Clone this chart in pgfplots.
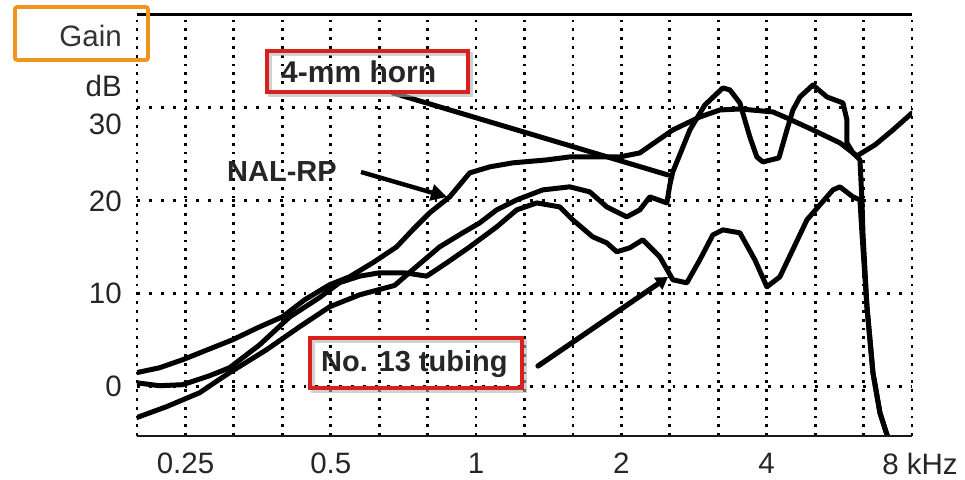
\documentclass[border=0pt]{standalone}
\usepackage{fontspec}
\setmainfont{Liberation Sans}
\usepackage{pgfplots}
\pgfplotsset{compat=1.18}
\usetikzlibrary{arrows.meta}

\definecolor{boxred}{RGB}{218,32,30}
\definecolor{gainorange}{RGB}{242,148,28}
\newcommand{\lblfont}{\fontsize{29.5}{32}\selectfont}

\tikzset{
  vgrid/.style={black, line width=2.8pt, dash pattern=on 2.8pt off 6pt},
  hgrid/.style={black, line width=2.9pt, dash pattern=on 2.9pt off 9pt},
}
\pgfplotsset{
  curve/.style={black, line width=5pt, line join=round, line cap=round, mark=none},
}

\begin{document}
\begin{tikzpicture}
\begin{axis}[
  scale only axis, width=775pt, height=421pt,
  xmode=log, log basis x=2,
  xmin=0.19843, xmax=8, ymin=-5.3, ymax=40,
  axis line style={draw=none},
  clip mode=individual,
  major tick length=0pt,
  grid=major,
  major x grid style={vgrid},
  major y grid style={hgrid},
  xtick={0.19843,0.25,0.31498,0.39685,0.5,0.62996,0.7937,1,1.25992,1.5874,2,2.51984,3.1748,4,5.03968,6.3496},
  xticklabels={{},0.25,{},{},0.5,{},{},1,{},{},2,{},{},4,{},{}},
  extra x ticks={8}, extra x tick labels={8 kHz},
  extra x tick style={grid=major, major x grid style={vgrid}, xticklabel style={xshift=8pt}},
  ytick={0,10,20}, yticklabels={0,10,20},
  extra y ticks={30}, extra y tick labels={30},
  extra y tick style={grid=major, major y grid style={hgrid}, yticklabel style={yshift=-16pt}},
  ticklabel style={font=\lblfont, text=black!85, inner sep=0pt},
  xticklabel style={anchor=north, yshift=-17pt},
  yticklabel style={anchor=east, xshift=-15pt},
]

% NAL-RP target
\addplot[curve] coordinates {
  (0.1979,1.51) (0.2208,2.04) (0.2465,2.90) (0.2777,3.98) (0.3129,5.05)
  (0.3525,6.34) (0.3973,7.53) (0.4413,9.35) (0.4971,10.97) (0.5469,11.83)
  (0.6104,13.33) (0.6846,15.05) (0.7390,16.88) (0.8014,18.71) (0.8816,20.43)
  (0.9700,23.01) (1.0671,23.66) (1.1910,24.09) (1.4010,24.41) (1.5634,24.73)
  (1.8041,24.73) (1.9848,24.73) (2.1834,25.16) (2.5562,27.63) (2.9080,29.03)
  (3.1993,29.78) (3.5198,29.89) (4.1200,29.57) (4.4050,28.92) (4.9875,27.63)
  (5.6725,26.24) (6.1523,24.84) (6.7043,26.02) (7.3053,27.63) (8.0,29.46)
};

% 4-mm horn
\addplot[curve] coordinates {
  (0.1979,-3.33) (0.2283,-2.15) (0.2673,-0.65) (0.3084,1.51) (0.3680,3.98)
  (0.4308,6.45) (0.4971,8.60) (0.5737,9.89) (0.6781,10.9) (0.7390,12.58)
  (0.8405,15.05) (0.9381,16.56) (1.0173,17.63) (1.1033,19.03) (1.2139,20.11)
  (1.3745,21.18) (1.5634,21.51) (1.7200,20.97) (1.8654,19.35) (2.0522,18.28)
  (2.1834,19.03) (2.2905,20.43) (2.4843,19.78) (2.5198,21.72) (2.5562,23.12)
  (2.7725,27.63) (2.9783,30.32) (3.2455,32.15) (3.3558,31.94) (3.5198,30.54)
  (3.6914,26.88) (3.8168,24.73) (3.9285,24.19) (4.2400,24.62) (4.4050,27.63)
  (4.5335,29.78) (4.6878,31.18) (4.9875,32.47) (5.3315,31.18) (5.7553,30.54)
  (5.8653,28.71) (5.8653,26.24) (6.0360,25.16) (6.2410,24.41) (6.3008,20.11)
  (6.3310,16.56) (6.4533,8.60) (6.6405,1.51) (6.8658,-2.80) (7.1330,-5.5)
};

% No. 13 tubing
\addplot[curve] coordinates {
  (0.1979,0.43) (0.2208,0.11) (0.2465,0.22) (0.2803,1.18) (0.3084,2.04)
  (0.3559,4.5) (0.4108,7.5) (0.4740,9.6) (0.5214,11.2) (0.5737,11.9)
  (0.6311,12.26) (0.7113,12.26) (0.7900,11.9) (0.8691,13.33) (0.9700,15.05)
  (1.1033,17.20) (1.2139,19.03) (1.3358,19.78) (1.4906,19.35) (1.5859,17.96)
  (1.7448,16.13) (1.8654,15.48) (1.9567,14.52) (2.0818,14.95) (2.2150,15.81)
  (2.4025,13.98) (2.5562,11.51) (2.7330,11.18) (2.9080,13.66) (3.0943,16.34)
  (3.2455,16.88) (3.5198,16.56) (3.7810,13.66) (4.0040,10.75) (4.2603,11.83)
  (4.8465,17.96) (5.4860,21.18) (5.6725,21.51) (6.0360,20.43) (6.2410,20.11)
  (6.3008,16.56) (6.4533,8.60) (6.6405,1.51) (6.8658,-2.80) (7.1330,-5.5)
};

% frame: solid top and bottom rules
\draw[black, line width=3pt] (rel axis cs:0,1) -- (rel axis cs:1,1);
\draw[black!90, line width=2.4pt] (rel axis cs:0,0) -- (rel axis cs:1,0);
\coordinate (BL) at (rel axis cs:0,0);
\end{axis}

% annotations, laid out in a top-down point grid anchored at the plot corner
\begin{scope}[shift={(BL)}, xshift=-137pt, yshift=436pt, x=1pt, y=-1pt]
  % axis caption
  \node[anchor=east, inner sep=0pt, font=\lblfont, text=black!80] at (122,36) {Gain};
  \node[anchor=east, inner sep=0pt, font=\lblfont, text=black!85] at (122,86) {dB};
  \draw[gainorange, line width=3.6pt, rounded corners=2pt] (15,7) rectangle (148,60);

  % curve labels and pointers
  \draw[black, line width=5pt, line cap=round] (393,93) -- (668,175);
  \draw[black, line width=4.4pt, -{Triangle[length=16pt,width=16pt]}] (361,172) -- (447,197);
  \draw[black, line width=5.2pt, line cap=round, -{Triangle[length=12pt,width=14pt]}] (538,366) -- (668,277);

  \draw[black!30, line width=3.6pt, opacity=0.6] (270,54) rectangle (471,95);
  \draw[boxred, line width=3.6pt] (267,51) rectangle (468,92);
  \node[anchor=west, inner sep=0pt, font=\fontsize{30}{32}\selectfont\bfseries, text=black!85] at (281,72) {4-mm horn};

  \node[anchor=west, inner sep=0pt, font=\fontsize{29}{32}\selectfont\bfseries, text=black!85] at (227,172) {NAL-RP};

  \draw[black!30, line width=3.6pt, opacity=0.6] (313,341) rectangle (525,391);
  \draw[boxred, line width=3.6pt] (310,338) rectangle (522,388);
  \node[anchor=west, inner sep=0pt, font=\fontsize{29}{32}\selectfont\bfseries, text=black!85] at (321,364) {No. 13 tubing};

  \pgfresetboundingbox
  \path[use as bounding box] (0,0) rectangle (965,479);
\end{scope}
\end{tikzpicture}
\end{document}
